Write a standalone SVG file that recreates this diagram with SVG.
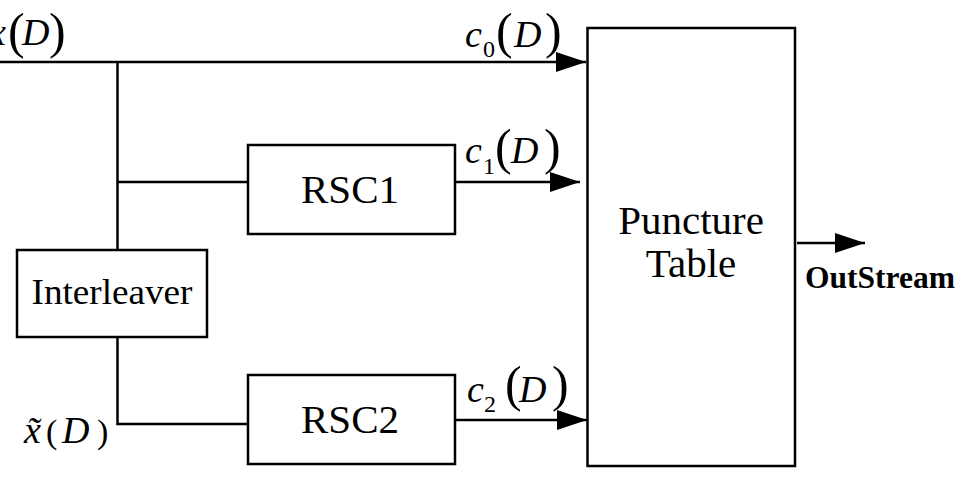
<svg xmlns="http://www.w3.org/2000/svg" width="961" height="486" viewBox="0 0 961 486">
<defs>
<marker id="ah" markerUnits="userSpaceOnUse" markerWidth="30" markerHeight="20" refX="30" refY="10" orient="auto">
<path d="M0,0 L30,10 L0,20 z" fill="#000"/>
</marker>
<style>
.box{fill:#fff;stroke:#000;stroke-width:2.5}
.ln{fill:none;stroke:#000;stroke-width:2.5}
text{font-family:'Liberation Serif',serif;fill:#000}
.it{font-style:italic}
.big{font-size:41px}
.par{font-size:50px}
.sub{font-size:24px}
.var{font-size:38px}
</style>
</defs>
<rect width="961" height="486" fill="#fff"/>
<g id="connectors">
<polyline class="ln" points="0,62 586,62" marker-end="url(#ah)"/>
<polyline class="ln" points="117.5,62 117.5,250"/>
<polyline class="ln" points="117.5,182 248,182"/>
<polyline class="ln" points="117.5,337 117.5,424 248,424"/>
<polyline class="ln" points="455,182 580,182" marker-end="url(#ah)"/>
<polyline class="ln" points="455,420 587,420" marker-end="url(#ah)"/>
<polyline class="ln" points="797,243 865,243" marker-end="url(#ah)"/>
</g>
<g id="rsc1">
<rect class="box" x="248" y="145" width="207" height="89"/>
<text class="big" font-family="Liberation Serif, serif" x="350" y="203" text-anchor="middle">RSC1</text>
</g>
<g id="rsc2">
<rect class="box" x="248" y="375" width="207" height="89"/>
<text class="big" font-family="Liberation Serif, serif" x="350" y="433" text-anchor="middle">RSC2</text>
</g>
<g id="interleaver">
<rect class="box" x="17" y="250" width="190" height="87"/>
<text font-family="Liberation Serif, serif" x="112" y="304" text-anchor="middle" font-size="36" textLength="161" lengthAdjust="spacingAndGlyphs">Interleaver</text>
</g>
<g id="puncture">
<rect class="box" x="587.5" y="28" width="207.5" height="438"/>
<text class="big" font-family="Liberation Serif, serif" x="691" y="234" text-anchor="middle">Puncture</text>
<text class="big" font-family="Liberation Serif, serif" x="691" y="277" text-anchor="middle">Table</text>
</g>
<g id="labels" font-family="Liberation Serif, serif">
<text class="it var" x="-11" y="45">x</text>
<text class="par" x="8" y="48">(</text>
<text class="it var" x="22" y="45">D</text>
<text class="par" x="49" y="48">)</text>

<text class="it var" x="465" y="47">c</text>
<text class="sub" x="483" y="57">0</text>
<text class="par" x="496" y="48">(</text>
<text class="it var" x="514" y="47">D</text>
<text class="par" x="545" y="48">)</text>

<text class="it var" x="465" y="163">c</text>
<text class="sub" x="483" y="174">1</text>
<text class="par" x="495" y="164">(</text>
<text class="it var" x="511" y="163">D</text>
<text class="par" x="544" y="164">)</text>

<text class="it var" x="467" y="402">c</text>
<text class="sub" x="484" y="412">2</text>
<text class="par" x="505" y="401">(</text>
<text class="it var" x="519" y="402">D</text>
<text class="par" x="552" y="401">)</text>

<text class="it var" x="24" y="443">x̃</text>
<text x="46" y="443" font-size="34">(</text>
<text class="it var" x="62" y="443">D</text>
<text x="97" y="443" font-size="34">)</text>

<text x="805" y="288" font-size="31" font-weight="bold" textLength="150" lengthAdjust="spacingAndGlyphs">OutStream</text>
</g>
</svg>
